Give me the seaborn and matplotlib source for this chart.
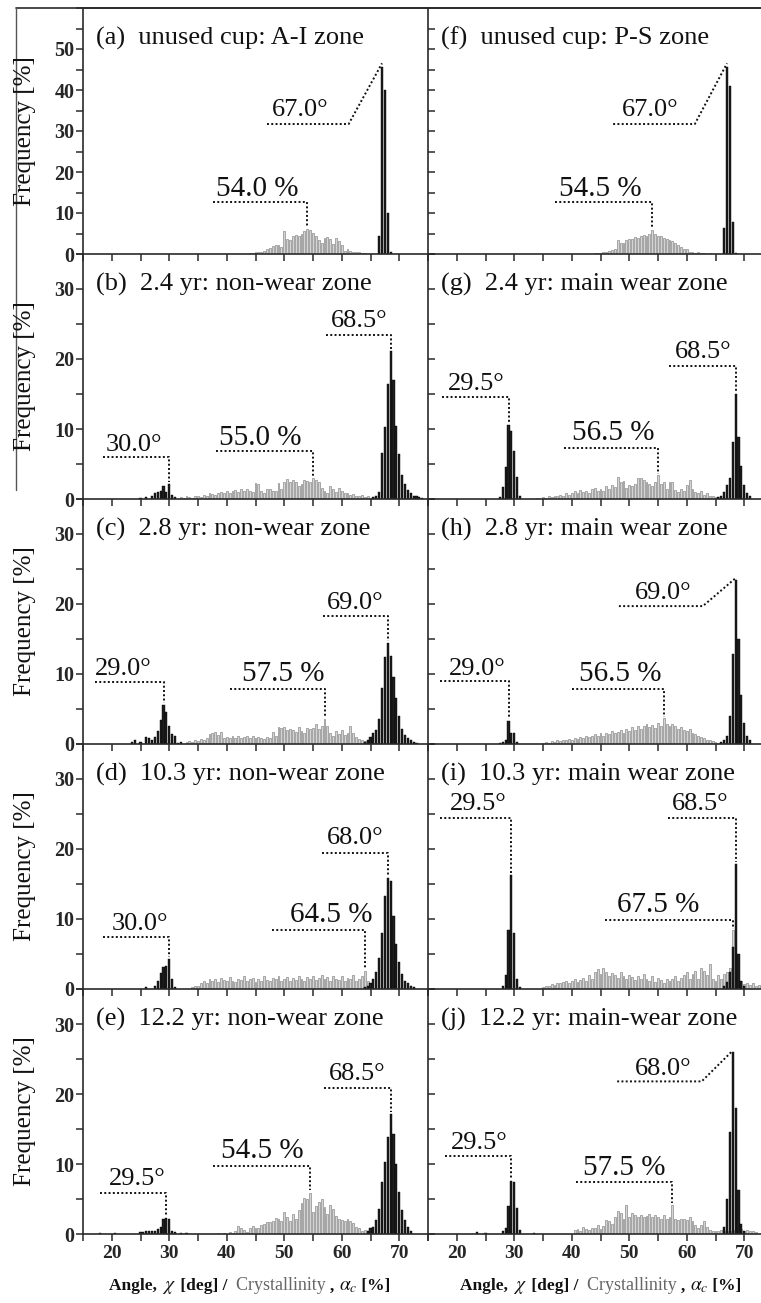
import numpy as np
import pandas as pd
import matplotlib
matplotlib.use('Agg')
import matplotlib.pyplot as plt
import seaborn as sns
from matplotlib.lines import Line2D
from matplotlib.ticker import MultipleLocator
from matplotlib.offsetbox import TextArea, HPacker, AnchoredOffsetbox

# histogram heights [%] in 0.5-wide bins; *_x0 is the first bin centre
# gray = crystallinity, black = orientation angle

# (a) unused cup A-I
a_gray_x0 = 44.0
a_gray = [0.2, 0.3, 0.5, 0.4, 0.6, 0.8, 1.2, 1.5, 2.0, 2.3, 2.1, 1.8, 5.5, 3.6, 3.5, 4.3, 4.6, 4.4, 5.0, 5.5,
          6.2, 5.9, 5.2, 4.4, 3.4, 2.8, 3.9, 4.1, 3.6, 2.4, 4.0, 3.2, 2.1, 0.8, 1.2, 0.7, 0.6, 0.6, 0.4, 0.3, 0.2]
a_black_x0 = 66.5
a_black = [4.5, 45.5, 40.0, 10.0, 0.4]

# (f) unused cup P-S
f_gray_x0 = 44.0
f_gray = [0.2, 0.2, 0.3, 0.4, 0.5, 0.7, 1.0, 1.3, 3.5, 2.8, 2.6, 3.4, 3.6, 3.7, 4.2, 3.9, 4.3, 4.7, 4.4, 5.0,
          5.9, 4.8, 4.5, 4.3, 3.8, 3.7, 3.3, 3.2, 2.8, 2.2, 1.6, 1.1, 1.3, 0.6, 0.5, 0.3, 0.4, 0.2, 0.2, 0.1, 0.2]
f_black_x0 = 66.5
f_black = [6.3, 45.5, 41.0, 7.9, 0.3]

# (b) 2.4 yr non-wear
b_gray_x0 = 32.0
b_gray = [0.3, 0.2, 0.4, 0.3, 0.2, 0.5, 0.4, 0.3, 0.6, 0.5, 0.8, 0.7, 0.6, 0.9, 1.0, 0.8, 1.2, 0.9, 1.1, 1.3,
          1.0, 1.4, 1.2, 1.5, 1.1, 1.0, 2.3, 2.1, 1.2, 0.9, 1.5, 1.4, 1.2, 1.1, 2.3, 1.4, 2.5, 2.8, 2.5, 2.7,
          2.5, 1.9, 2.2, 2.7, 2.6, 2.5, 3.0, 2.7, 2.5, 1.6, 1.2, 0.9, 1.8, 1.5, 1.0, 1.6, 1.1, 0.8, 0.9, 0.6,
          0.7, 0.5, 0.4, 0.6, 0.3, 0.4, 0.2, 0.3]
b_black_lo_x0 = 25.0
b_black_lo = [0.2, 0.0, 0.3, 0.0, 0.5, 0.8, 1.0, 1.1, 1.8, 1.0, 2.2, 0.6, 0.3]
b_black_hi_x0 = 65.5
b_black_hi = [0.3, 0.5, 1.0, 6.6, 10.3, 16.5, 21.2, 17.0, 10.5, 6.5, 3.5, 2.2, 1.3, 0.8, 0.5, 0.4, 0.3, 0.2]

# (c) 2.8 yr non-wear
c_gray_x0 = 33.0
c_gray = [0.3, 0.4, 0.3, 0.6, 0.4, 0.7, 0.5, 0.8, 1.4, 1.5, 1.7, 1.3, 1.7, 0.9, 1.0, 0.8, 1.2, 0.9, 1.1, 0.8,
          1.0, 1.2, 0.9, 1.1, 0.8, 1.0, 0.9, 0.7, 1.0, 0.8, 1.7, 1.2, 2.4, 2.3, 2.4, 2.0, 2.2, 2.0, 1.7, 2.4,
          1.9, 1.6, 2.3, 2.2, 2.3, 2.8, 2.1, 2.6, 3.6, 2.6, 1.5, 1.2, 1.8, 1.4, 2.0, 1.3, 1.6, 2.6, 1.5, 1.0,
          0.7, 0.6, 0.4, 0.3]
c_black_lo_x0 = 23.5
c_black_lo = [0.3, 0.5, 0.0, 0.3, 0.0, 1.0, 0.8, 0.5, 1.0, 1.8, 3.4, 5.5, 4.6, 2.5, 1.4, 1.1, 0.2, 0.3]
c_black_hi_x0 = 64.0
c_black_hi = [0.3, 0.5, 1.0, 1.5, 2.0, 3.5, 8.0, 12.4, 14.4, 12.5, 9.5, 6.5, 4.0, 2.2, 1.3, 0.8, 0.5, 0.3, 0.2]

# (d) 10.3 yr non-wear
d_gray_x0 = 34.0
d_gray = [0.3, 0.5, 0.4, 0.8, 1.2, 0.9, 1.5, 1.1, 1.4, 1.0, 1.6, 1.3, 1.1, 1.7, 1.2, 1.0, 1.5, 1.3, 1.8, 1.1,
          1.4, 1.6, 1.0, 1.5, 1.2, 1.8, 1.3, 1.1, 1.6, 1.4, 1.9, 1.2, 1.5, 1.7, 1.1, 1.6, 1.3, 1.8, 1.4, 1.2,
          1.7, 1.5, 1.9, 1.3, 1.6, 2.0, 1.4, 1.7, 1.2, 1.9, 1.5, 1.3, 1.8, 1.1, 1.6, 1.4, 2.0, 1.2, 1.5, 1.8,
          2.6, 1.2, 0.8]
d_black_lo_x0 = 26.0
d_black_lo = [0.3, 0.0, 0.0, 0.5, 1.2, 2.3, 3.1, 3.3, 4.3, 1.5, 0.3]
d_black_hi_x0 = 64.0
d_black_hi = [0.3, 0.5, 0.8, 1.5, 2.5, 4.5, 8.0, 13.3, 15.8, 15.5, 10.5, 6.5, 3.8, 2.2, 1.2, 0.8, 0.5, 0.3]

# (e) 12.2 yr non-wear
e_gray_x0 = 38.5
e_gray = [0.2, 0.0, 0.2, 0.0, 0.3, 0.2, 0.5, 1.1, 0.8, 0.6, 0.3, 0.8, 1.2, 0.9, 0.8, 1.3, 1.5, 1.7, 1.7, 1.8,
          2.3, 2.1, 1.8, 3.1, 2.4, 1.8, 2.8, 2.2, 3.4, 4.5, 5.2, 5.0, 5.8, 3.2, 4.0, 4.6, 5.0, 3.9, 2.9, 4.1,
          3.6, 2.6, 2.1, 2.0, 1.8, 2.2, 1.9, 1.6, 1.0, 0.8, 0.5, 0.6, 0.3]
e_black_lo_x0 = 18.0
e_black_lo = [0.2, 0, 0, 0, 0, 0.2, 0, 0, 0, 0, 0, 0, 0, 0, 0.3, 0.3, 0.4, 0.4, 0.5, 0.4,
              0.7, 1.0, 2.2, 2.3, 2.1, 0.4, 0.3, 0, 0.2, 0, 0.2]
e_black_hi_x0 = 64.5
e_black_hi = [0.5, 0.8, 1.0, 2.0, 3.6, 7.5, 10.3, 13.8, 17.2, 14.3, 10.0, 6.0, 3.5, 2.0, 1.0, 0.5]

# (g) 2.4 yr main wear
g_gray_x0 = 34.0
g_gray = [0.2, 0.0, 0.3, 0.2, 0.4, 0.3, 0.5, 0.4, 0.6, 0.5, 0.8, 0.6, 0.9, 1.1, 0.8, 1.3, 1.0, 1.2, 0.9, 1.4,
          1.6, 1.2, 1.5, 1.1, 1.8, 1.5, 2.0, 1.7, 3.2, 2.4, 2.6, 1.6, 2.0, 1.8, 2.2, 3.0, 3.0, 2.7, 2.5, 2.2,
          1.9, 2.4, 3.4, 2.2, 2.5, 1.4, 2.4, 2.5, 1.3, 1.0, 1.5, 1.2, 2.0, 2.7, 1.5, 1.0, 0.8, 1.1, 0.6, 0.8,
          0.5, 0.4, 0.3, 0.3, 0.2]
g_black_lo_x0 = 27.5
g_black_lo = [0.3, 1.7, 4.6, 10.6, 9.7, 6.8, 3.2, 0.4]
g_black_hi_x0 = 65.5
g_black_hi = [0.3, 0.5, 1.0, 2.0, 3.0, 8.1, 15.0, 8.8, 4.7, 2.0, 0.8, 0.4]

# (h) 2.8 yr main wear
h_gray_x0 = 35.0
h_gray = [0.2, 0.3, 0.2, 0.4, 0.3, 0.5, 0.4, 0.6, 0.5, 0.7, 0.6, 0.9, 0.7, 1.0, 0.8, 1.2, 1.0, 1.1, 1.4, 1.2,
          1.5, 1.1, 1.6, 1.4, 1.9, 1.5, 1.7, 2.0, 1.6, 2.2, 1.8, 2.4, 2.0, 2.6, 2.2, 2.5, 2.9, 2.4, 2.7, 2.3,
          3.0, 2.6, 3.7, 2.8, 2.5, 2.9, 2.6, 2.2, 2.4, 2.0, 1.8, 2.1, 1.6, 1.4, 1.2, 1.0, 0.8, 0.6, 0.5, 0.4,
          0.3, 0.2]
h_black_lo_x0 = 27.5
h_black_lo = [0.2, 0.3, 0.5, 3.3, 1.5, 1.5, 0.3]
h_black_hi_x0 = 66.0
h_black_hi = [0.3, 0.6, 1.2, 4.0, 12.9, 23.4, 15.0, 7.0, 3.0, 1.2, 0.5]

# (i) 10.3 yr main wear
i_gray_x0 = 35.0
i_gray = [0.3, 0.5, 0.4, 0.7, 0.6, 0.9, 0.8, 1.0, 1.2, 0.9,
          1.1, 1.4, 1.0, 1.3, 1.6, 1.2, 2.0, 1.5, 2.4, 2.8,
          2.2, 3.0, 2.5, 1.8, 2.3, 2.0, 1.6, 2.5, 1.8, 1.4,
          2.0, 1.7, 1.3, 1.9, 1.5, 2.2, 1.4, 1.2, 1.8, 1.0,
          1.6, 1.3, 0.9, 1.5, 1.1, 1.4, 1.8, 1.2, 1.6, 2.0,
          2.4, 1.4, 2.2, 2.6, 1.5, 3.0, 2.6, 2.0, 3.6, 1.5,
          1.2, 2.0, 1.5, 2.2, 2.4, 3.0, 8.4, 1.2, 0.9, 1.1,
          0.7, 0.9, 0.6, 0.8, 0.5, 0.6, 0.4, 0.5, 0.3, 0.4]
i_black_lo_x0 = 28.0
i_black_lo = [0.5, 2.0, 8.5, 16.3, 8.0, 1.5, 0.3]
i_black_hi_x0 = 66.5
i_black_hi = [0.5, 1.0, 2.5, 6.0, 17.8, 5.0, 1.2, 0.4]

# (j) 12.2 yr main wear
j_gray_x0 = 40.5
j_gray = [0.6, 0.7, 0.5, 1.0, 0.7, 0.6, 0.9, 0.8, 1.3, 0.7, 1.2, 2.0, 1.8, 1.4, 2.5, 3.3, 3.0, 2.2, 4.1, 2.5,
          3.0, 2.7, 2.5, 2.7, 2.5, 2.6, 2.9, 2.5, 2.7, 2.5, 2.2, 2.7, 2.2, 2.4, 4.1, 2.2, 2.0, 2.1, 2.2, 2.0,
          2.5, 1.8, 1.3, 0.8, 1.3, 1.8, 1.0, 0.6, 0.5, 0.4, 0.5, 0.6, 0.5, 0.4, 0.5, 0.6, 0.5, 0.6, 0.7, 0.5,
          0.6, 0.5, 0.4, 0.3]
j_black_lo_x0 = 23.5
j_black_lo = [0.3, 0, 0, 0.2, 0, 0, 0, 0, 0, 0.4, 0.8, 4.0, 7.6, 7.4, 3.7, 0.6, 0, 0, 0, 0, 0.2]
j_black_hi_x0 = 66.5
j_black_hi = [1.0, 5.0, 14.6, 26.0, 18.0, 6.3, 1.5, 0.5]

titles = {
    'a': '(a)  unused cup: A-I zone', 'f': '(f)  unused cup: P-S zone',
    'b': '(b)  2.4 yr: non-wear zone', 'g': '(g)  2.4 yr: main wear zone',
    'c': '(c)  2.8 yr: non-wear zone', 'h': '(h)  2.8 yr: main wear zone',
    'd': '(d)  10.3 yr: non-wear zone', 'i': '(i)  10.3 yr: main wear zone',
    'e': '(e)  12.2 yr: non-wear zone', 'j': '(j)  12.2 yr: main-wear zone',
}

# label text, text (x, baseline y), leader: horizontal from x0 to x1 at y, then to end point
notes = {
    'a': [('67.0°', 52.8, 33.7, 47.0, 61.2, 31.7, 67.0, 46.5),
          ('54.0 %', 45.3, 14.1, 37.6, 54.0, 12.7, 54.0, 6.9)],
    'f': [('67.0°', 53.6, 33.7, 47.2, 61.4, 31.7, 67.0, 46.5),
          ('54.5 %', 44.9, 14.1, 37.0, 54.0, 12.8, 54.0, 6.5)],
    'b': [('30.0°', 23.8, 6.9, 18.5, 30.0, 6.0, 30.0, 2.4),
          ('55.0 %', 45.8, 7.7, 38.2, 55.0, 6.8, 55.0, 3.3),
          ('68.5°', 63.0, 24.6, 57.3, 68.5, 23.4, 68.5, 21.5)],
    'g': [('29.5°', 23.4, 15.6, 17.5, 29.0, 14.6, 29.0, 10.9),
          ('56.5 %', 47.2, 8.5, 38.6, 55.0, 7.3, 55.0, 3.6),
          ('68.5°', 62.9, 20.1, 56.9, 68.5, 19.0, 68.5, 15.3)],
    'c': [('29.0°', 22.0, 9.9, 17.1, 29.0, 8.9, 29.0, 5.8),
          ('57.5 %', 49.8, 9.0, 40.6, 57.0, 7.8, 57.0, 3.9),
          ('69.0°', 62.4, 19.3, 56.8, 68.0, 18.3, 68.0, 14.7)],
    'h': [('29.0°', 23.5, 9.9, 17.0, 29.0, 9.0, 29.0, 3.6),
          ('56.5 %', 48.4, 9.0, 40.0, 56.0, 7.8, 56.0, 3.9),
          ('69.0°', 55.9, 20.7, 48.2, 62.8, 19.7, 68.5, 23.7)],
    'd': [('30.0°', 24.9, 8.4, 18.5, 30.0, 7.4, 30.0, 4.6),
          ('64.5 %', 58.1, 9.5, 47.9, 64.0, 8.4, 64.0, 2.8),
          ('68.0°', 62.4, 20.7, 56.5, 68.0, 19.5, 68.0, 16.1)],
    'i': [('29.5°', 23.7, 25.5, 17.0, 29.5, 24.4, 29.5, 16.6),
          ('67.5 %', 55.0, 11.0, 45.7, 68.0, 9.8, 68.0, 8.6),
          ('68.5°', 62.4, 25.5, 56.7, 68.5, 24.4, 68.5, 18.1)],
    'e': [('29.5°', 24.4, 7.0, 18.0, 29.5, 5.9, 29.5, 2.6),
          ('54.5 %', 46.1, 10.8, 37.6, 54.5, 9.7, 54.5, 6.3),
          ('68.5°', 62.7, 22.0, 56.9, 68.5, 20.8, 68.5, 17.5)],
    'j': [('29.5°', 24.0, 12.2, 17.9, 29.5, 11.1, 29.5, 7.9),
          ('57.5 %', 49.2, 8.4, 40.7, 57.5, 7.4, 57.5, 4.4),
          ('68.0°', 55.9, 22.7, 47.9, 62.6, 21.8, 68.0, 26.2)],
}

panels = {
    'a': ((a_gray_x0, a_gray), [(a_black_x0, a_black)]),
    'f': ((f_gray_x0, f_gray), [(f_black_x0, f_black)]),
    'b': ((b_gray_x0, b_gray), [(b_black_lo_x0, b_black_lo), (b_black_hi_x0, b_black_hi)]),
    'g': ((g_gray_x0, g_gray), [(g_black_lo_x0, g_black_lo), (g_black_hi_x0, g_black_hi)]),
    'c': ((c_gray_x0, c_gray), [(c_black_lo_x0, c_black_lo), (c_black_hi_x0, c_black_hi)]),
    'h': ((h_gray_x0, h_gray), [(h_black_lo_x0, h_black_lo), (h_black_hi_x0, h_black_hi)]),
    'd': ((d_gray_x0, d_gray), [(d_black_lo_x0, d_black_lo), (d_black_hi_x0, d_black_hi)]),
    'i': ((i_gray_x0, i_gray), [(i_black_lo_x0, i_black_lo), (i_black_hi_x0, i_black_hi)]),
    'e': ((e_gray_x0, e_gray), [(e_black_lo_x0, e_black_lo), (e_black_hi_x0, e_black_hi)]),
    'j': ((j_gray_x0, j_gray), [(j_black_lo_x0, j_black_lo), (j_black_hi_x0, j_black_hi)]),
}
grid = [['a', 'f'], ['b', 'g'], ['c', 'h'], ['d', 'i'], ['e', 'j']]


def hist_df(x0, vals):
    x = x0 + 0.5 * np.arange(len(vals))
    df = pd.DataFrame({'x': x, 'y': vals})
    return df[df['y'] > 0]


sns.set_style('ticks')
plt.rcParams['font.family'] = ['Liberation Serif', 'DejaVu Serif']
plt.rcParams['mathtext.fontset'] = 'stix'

W, H = 761, 1303
fig = plt.figure(figsize=(W / 100, H / 100), dpi=100)
row_top = [8, 254, 499, 744, 989]
row_bot = [254, 499, 744, 989, 1234]
col_left = [83, 428]
col_w = [345, 333]
px_per_unit = 5.75
ink = '#2a2a2a'

for r, row in enumerate(grid):
    for c, key in enumerate(row):
        ax = fig.add_axes([col_left[c] / W, 1 - row_bot[r] / H, col_w[c] / W,
                           (row_bot[r] - row_top[r]) / H])
        (gx0, gvals), blacks = panels[key]
        sns.barplot(data=hist_df(gx0, gvals), x='x', y='y', native_scale=True, orient='x',
                    width=0.62, color='#d4d4d4', edgecolor='#808080', linewidth=0.45,
                    saturation=1, errorbar=None, ax=ax)
        for bx0, bvals in blacks:
            sns.barplot(data=hist_df(bx0, bvals), x='x', y='y', native_scale=True, orient='x',
                        width=0.7, color='#1e1e1e', edgecolor='#000000', linewidth=0.3,
                        saturation=1, errorbar=None, ax=ax)

        ymax = 60 if r == 0 else 35
        ax.set_xlim(15, 15 + col_w[c] / px_per_unit)
        ax.set_ylim(0, ymax)
        ax.set_xlabel('')
        ax.set_ylabel('')

        ax.xaxis.set_major_locator(MultipleLocator(10))
        ax.xaxis.set_minor_locator(MultipleLocator(5))
        yt = list(range(0, ymax, 10))
        ax.set_yticks(yt)
        ax.yaxis.set_minor_locator(MultipleLocator(5))
        if c == 0:
            ax.set_yticklabels([str(t) for t in yt], fontweight='bold', fontsize=14.5)
        else:
            ax.set_yticklabels([])
        if r == 4:
            ax.set_xticks([20, 30, 40, 50, 60, 70])
            ax.set_xticklabels(['20', '30', '40', '50', '60', '70'], fontweight='bold', fontsize=14)
        else:
            ax.tick_params(axis='x', labelbottom=False)

        ax.tick_params(axis='x', which='both', direction='out', length=5, width=1.1,
                       color=ink, pad=3)
        ax.tick_params(axis='y', which='both', direction='in' if c else 'out', length=5,
                       width=1.1, color=ink, pad=1)
        for s in ['right', 'top']:
            ax.spines[s].set_visible(False)
        if r == 0:
            ax.spines['top'].set_visible(True)
        for s in ax.spines.values():
            s.set_linewidth(1.2)
            s.set_color(ink)
        ax.patch.set_alpha(0)

        ax.text(17.2, 0.852, titles[key], transform=ax.get_xaxis_transform(),
                fontsize=19, ha='left', va='baseline', color='#111')

        for txt, tx, ty, hx0, hx1, hy, ex, ey in notes[key]:
            pct = txt.endswith('%')
            ax.text(tx, ty, txt, fontsize=21 if pct else 19,
                    ha='center', va='baseline', color='#111', clip_on=False)
            ax.plot([hx0, hx1, ex], [hy, hy, ey], color='#111', lw=1.4,
                    ls=(0, (1, 1.2)), clip_on=False)

        if c == 0:
            fig.text(25.5 / W, 1 - (row_top[r] + row_bot[r]) / 2 / H, 'Frequency [%]',
                     rotation=90, ha='center', va='center', fontsize=18, color='#111')

        if r == 4:
            bold = dict(fontsize=12.5, fontweight='bold', color='#111')
            parts = [TextArea('Angle, ', textprops=bold),
                     TextArea(r'$\chi$', textprops=dict(fontsize=14, color='#111')),
                     TextArea(' [deg] /  ', textprops=bold),
                     TextArea('Crystallinity ', textprops=dict(fontsize=13, color='#666')),
                     TextArea(', ', textprops=bold),
                     TextArea(r'$\alpha_c$', textprops=dict(fontsize=14, color='#111')),
                     TextArea(' [%]', textprops=bold)]
            pack = HPacker(children=parts, align='baseline', pad=0, sep=0)
            cx = ((250 if c == 0 else 601) - col_left[c]) / col_w[c]
            box = AnchoredOffsetbox(loc='center', child=pack, frameon=False, pad=0,
                                    bbox_to_anchor=(cx, -53 / 245), bbox_transform=ax.transAxes,
                                    borderpad=0)
            ax.add_artist(box)

# outer frame fragments of the original figure
fig.add_artist(Line2D([16 / W, 1], [1 - 8 / H, 1 - 8 / H], color=ink, lw=1.2))
fig.add_artist(Line2D([16 / W, 16 / W], [1 - 8 / H, 1 - 490 / H], color='#555', lw=1.0))

fig.savefig('out.png', dpi=100)
